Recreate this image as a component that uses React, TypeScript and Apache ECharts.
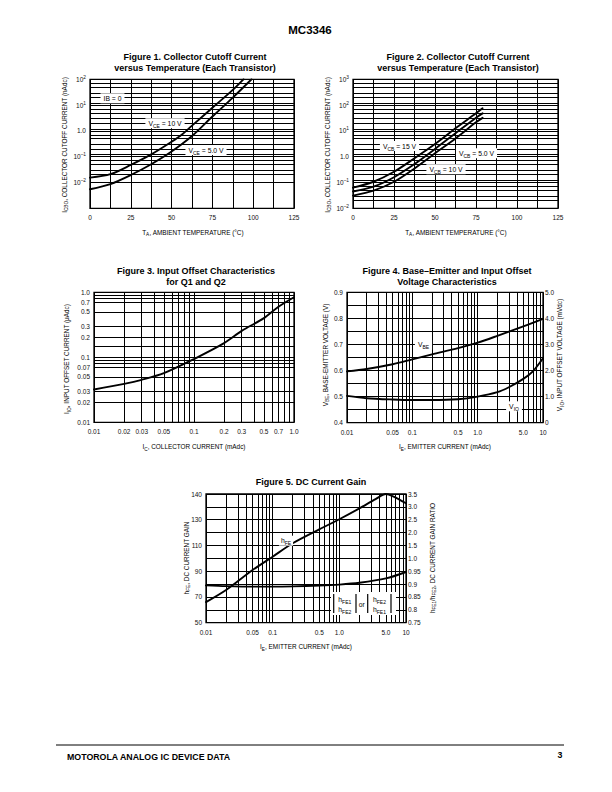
import React, { useEffect, useRef } from 'react';
import * as echarts from 'echarts';

const FONT = '"Liberation Sans", Arial, Helvetica, sans-serif';

// ---------------- Figure 1 ----------------
const fig1TempA = [0, 12.5, 25, 37.5, 50, 56, 62.5, 75, 87.5, 94];
const fig1Vce10V = [0.0155, 0.021, 0.048, 0.123, 0.38, 0.69, 1.6, 7.9, 39, 100];
const fig1TempB = [0, 12.5, 25, 37.5, 50, 62.5, 75, 87.5, 99];
const fig1Vce5V = [0.0055, 0.0087, 0.0195, 0.051, 0.158, 0.63, 3.6, 19.5, 100];
const fig1XTicks = [0, 25, 50, 75, 100, 125];
const fig1XLabels = ['0', '25', '50', '75', '100', '125'];
const fig1YTicks = [0.001, 0.01, 0.1, 1, 10, 100];
const fig1YLabels = ['10^–3', '10^–2', '10^–1', '1.0', '10^1', '10^2'];

// ---------------- Figure 2 ----------------
const fig2Temp = [0, 12.5, 25, 37.5, 50, 62.5, 75, 79];
const fig2Vcb15V = [0.063, 0.107, 0.26, 0.87, 3.1, 12.6, 48, 75];
const fig2Vcb10V = [0.045, 0.069, 0.16, 0.52, 2.0, 8.1, 32.6, 48];
const fig2Vcb5V = [0.031, 0.048, 0.107, 0.35, 1.35, 5.1, 21.5, 32];
const fig2XTicks = [0, 25, 50, 75, 100, 125];
const fig2XLabels = ['0', '25', '50', '75', '100', '125'];
const fig2YTicks = [0.01, 0.1, 1, 10, 100, 1000];
const fig2YLabels = ['10^–2', '10^–1', '1.0', '10^1', '10^2', '10^3'];

// ---------------- Figure 3 ----------------
const fig3Ic = [0.01, 0.02, 0.03, 0.05, 0.1, 0.2, 0.3, 0.5, 0.7, 1.0];
const fig3Iio = [0.032, 0.039, 0.045, 0.057, 0.094, 0.165, 0.255, 0.4, 0.6, 0.84];
const fig3XTicks = [0.01, 0.02, 0.03, 0.05, 0.1, 0.2, 0.3, 0.5, 0.7, 1];
const fig3XLabels = ['0.01', '0.02', '0.03', '0.05', '0.1', '0.2', '0.3', '0.5', '0.7', '1.0'];
const fig3YTicks = [0.01, 0.02, 0.03, 0.05, 0.07, 0.1, 0.2, 0.3, 0.5, 0.7, 1];
const fig3YLabels = ['0.01', '0.02', '0.03', '0.05', '0.07', '0.1', '0.2', '0.3', '0.5', '0.7', '1.0'];

// ---------------- Figure 4 ----------------
const fig4IeVbe = [0.01, 0.02, 0.05, 0.1, 0.2, 0.5, 1, 2, 5, 10];
const fig4Vbe = [0.597, 0.606, 0.624, 0.643, 0.662, 0.686, 0.707, 0.733, 0.769, 0.798];
const fig4IeVio = [0.01, 0.02, 0.05, 0.1, 0.2, 0.5, 1, 2, 3, 5, 7, 10];
const fig4Vio = [1.03, 0.94, 0.89, 0.87, 0.87, 0.9, 1.0, 1.17, 1.36, 1.68, 1.97, 2.47];
const fig4XTicks = [0.01, 0.05, 0.1, 0.5, 1, 5, 10];
const fig4XLabels = ['0.01', '0.05', '0.1', '0.5', '1.0', '5.0', '10'];
const fig4YTicks = [0.4, 0.5, 0.6, 0.7, 0.8, 0.9];
const fig4YLabels = ['0.4', '0.5', '0.6', '0.7', '0.8', '0.9'];
const fig4Y2Ticks = [0, 1, 2, 3, 4, 5];
const fig4Y2Labels = ['0', '1.0', '2.0', '3.0', '4.0', '5.0'];

// ---------------- Figure 5 ----------------
const fig5Ie = [0.01, 0.02, 0.05, 0.1, 0.2, 0.5, 1, 2, 3.5, 5, 6.5, 10];
const fig5Hfe = [66, 75.4, 90.9, 101.3, 111.7, 122.5, 130.2, 134.4, 138, 140, 139, 136.4];
const fig5IeRatio = [0.01, 0.02, 0.05, 0.1, 0.2, 0.5, 1, 2, 5, 10];
const fig5Ratio = [0.895, 0.892, 0.89, 0.89, 0.891, 0.894, 0.898, 0.905, 0.922, 0.947];
const fig5XTicks = [0.01, 0.05, 0.1, 0.5, 1, 5, 10];
const fig5XLabels = ['0.01', '0.05', '0.1', '0.5', '1.0', '5.0', '10'];
const fig5HfeTicks = [50, 70, 90, 110, 130, 140];
const fig5HfeLabels = ['50', '70', '90', '110', '130', '140'];
const fig5RatioTicks = [0.75, 0.8, 0.85, 0.9, 0.95, 1.0, 1.5, 2.0, 2.5, 3.0, 3.5];
const fig5RatioLabels = ['0.75', '0.8', '0.85', '0.9', '0.95', '1.0', '1.5', '2.0', '2.5', '3.0', '3.5'];

// ---------- helpers ----------
const logGrid = (min: number, max: number, mults: number[]) => {
  const out: number[] = [];
  const e0 = Math.floor(Math.log10(min) + 1e-9);
  const e1 = Math.ceil(Math.log10(max) - 1e-9);
  for (let e = e0; e <= e1; e++) {
    for (const m of mults) {
      const v = parseFloat((m * Math.pow(10, e)).toPrecision(8));
      if (v >= min * (1 - 1e-9) && v <= max * (1 + 1e-9)) out.push(v);
    }
  }
  return out;
};
const linGrid = (min: number, max: number, step: number) => {
  const out: number[] = [];
  const n = Math.round((max - min) / step);
  for (let i = 0; i <= n; i++) out.push(Math.round((min + i * step) * 1e6) / 1e6);
  return out;
};
const interp = (xs: number[], ys: number[], v: number) => {
  for (let i = 0; i < xs.length - 1; i++) {
    if (v <= xs[i + 1] || i === xs.length - 2) {
      return ys[i] + ((v - xs[i]) / (xs[i + 1] - xs[i])) * (ys[i + 1] - ys[i]);
    }
  }
  return ys[0];
};
const idxRange = (n: number) => Array.from({ length: n }, (_, i) => i);

const TICK_RICH = {
  tk: { fontSize: 6.5, fontFamily: FONT, color: '#111', lineHeight: 9, verticalAlign: 'middle' },
  sp: { fontSize: 4.8, fontFamily: FONT, color: '#111', lineHeight: 5, verticalAlign: 'top' },
};
const tickText = (s: string) => {
  const k = s.indexOf('^');
  if (k < 0) return `{tk|${s}}`;
  return `{tk|${s.slice(0, k)}}{sp|${s.slice(k + 1)}}`;
};
const findTick = (ticks: number[], v: number) =>
  ticks.findIndex((t) => Math.abs(t - v) <= Math.abs(t) * 1e-6 + 1e-9);

function gridMarkLine(
  xs: number[], ys: number[],
  xTicks: number[], xLabels: string[],
  yTicks: number[], yLabels: string[],
  xDist = 5, yDist = 4,
) {
  const data: any[] = [];
  xs.forEach((v) => {
    const i = findTick(xTicks, v);
    data.push({
      xAxis: v,
      label: i >= 0 ? { show: true, position: 'start', distance: xDist, formatter: () => tickText(xLabels[i]) } : { show: false },
    });
  });
  ys.forEach((v) => {
    const i = findTick(yTicks, v);
    data.push({
      yAxis: v,
      label: i >= 0 ? { show: true, position: 'start', distance: yDist, formatter: () => tickText(yLabels[i]) } : { show: false },
    });
  });
  return {
    silent: true,
    symbol: ['none', 'none'],
    z: 1,
    animation: false,
    emphasis: { disabled: true },
    lineStyle: { color: '#000', width: 1, type: 'solid' },
    label: { fontSize: 6.5, fontFamily: FONT, color: '#111', rich: TICK_RICH },
    data,
  };
}
function rightLabels(yTicks: number[], yLabels: string[], pos: (v: number) => number, dist = 2) {
  return {
    silent: true,
    symbol: ['none', 'none'],
    z: 1,
    animation: false,
    emphasis: { disabled: true },
    lineStyle: { color: 'rgba(0,0,0,0)', width: 0 },
    label: { fontSize: 6.5, fontFamily: FONT, color: '#111', rich: TICK_RICH },
    data: yTicks.map((t, i) => ({
      yAxis: pos(t),
      label: { show: true, position: 'end', distance: dist, formatter: () => tickText(yLabels[i]) },
    })),
  };
}

const hidden = {
  axisLine: { show: false },
  axisTick: { show: false },
  axisLabel: { show: false },
  splitLine: { show: false },
};

const curve = (name: string, xi: number, yi: number, data: number[][], extra: any = {}) => ({
  type: 'line',
  name,
  xAxisIndex: xi,
  yAxisIndex: yi,
  data,
  symbol: 'none',
  showSymbol: false,
  smooth: 0.3,
  silent: true,
  z: 3,
  lineStyle: { color: '#000', width: 1.9, cap: 'round', join: 'round' },
  ...extra,
});

const G_RICH = {
  n: { fontSize: 6.4, fontFamily: FONT, fill: '#000', lineHeight: 10, verticalAlign: 'middle' },
  s: { fontSize: 4.7, fontFamily: FONT, fill: '#000', lineHeight: 6, verticalAlign: 'bottom' },
  N: { fontSize: 6.8, fontFamily: FONT, fill: '#000', lineHeight: 10, verticalAlign: 'middle' },
  S: { fontSize: 5, fontFamily: FONT, fill: '#000', lineHeight: 6, verticalAlign: 'bottom' },
};
// text with subscripts: parts alternate normal / subscript
const subText = (parts: string[], big = false) =>
  parts.map((p, i) => (p === '' ? '' : `{${i % 2 === 0 ? (big ? 'N' : 'n') : (big ? 'S' : 's')}|${p}}`)).join('');

const txt = (x: number, y: number, text: string, o: any = {}) => ({
  type: 'text',
  x,
  y,
  z: 20,
  silent: true,
  rotation: o.rot || 0,
  style: {
    text,
    fontSize: o.size || 6.4,
    fontFamily: FONT,
    fontWeight: o.bold ? 'bold' : 'normal',
    fill: '#000',
    align: o.align || 'center',
    verticalAlign: 'middle',
    textAlign: o.align || 'center',
    textVerticalAlign: 'middle',
    rich: G_RICH,
    backgroundColor: o.bg,
    padding: o.pad,
  },
});
const vline = (x: number, y1: number, y2: number, w = 1.2) => ({
  type: 'line', z: 21, silent: true,
  shape: { x1: x, y1, x2: x, y2 },
  style: { stroke: '#000', lineWidth: w },
});

export default function App() {
  const ref = useRef<HTMLDivElement>(null);
  useEffect(() => {
    if (!ref.current) return;
    const chart = echarts.init(ref.current, null, { renderer: 'svg' });

    const gridBox = (left: number, top: number, width: number, height: number) => ({
      left, top, width, height, show: true, borderColor: '#000', borderWidth: 1.3, backgroundColor: 'rgba(0,0,0,0)',
    });

    const multsTemp = [1, 1.2, 2, 3, 5, 7];
    const multsOffset = [1, 1.5, 2, 3, 5, 7, 8, 9];
    const decade = [1, 2, 3, 4, 5, 6, 7, 8, 9];

    const hfePos = (v: number) => interp(fig5HfeTicks, [0, 2, 4, 6, 8, 10], v);
    const ratioPos = (v: number) => interp(fig5RatioTicks, idxRange(11), v);

    const option: any = {
      animation: false,
      backgroundColor: '#fff',
      grid: [
        gridBox(90, 79.3, 204, 129),
        gridBox(353, 79.3, 205, 129),
        gridBox(94, 292.3, 200, 130),
        gridBox(347, 292.3, 196, 130.4),
        gridBox(206, 494, 200, 128.7),
      ],
      xAxis: [
        { gridIndex: 0, type: 'value', min: 0, max: 125, ...hidden },
        { gridIndex: 1, type: 'value', min: 0, max: 125, ...hidden },
        { gridIndex: 2, type: 'log', logBase: 10, min: 0.01, max: 1, ...hidden },
        { gridIndex: 3, type: 'log', logBase: 10, min: 0.01, max: 10, ...hidden },
        { gridIndex: 4, type: 'log', logBase: 10, min: 0.01, max: 10, ...hidden },
      ],
      yAxis: [
        { gridIndex: 0, type: 'log', logBase: 10, min: 0.001, max: 100, ...hidden },
        { gridIndex: 1, type: 'log', logBase: 10, min: 0.01, max: 1000, ...hidden },
        { gridIndex: 2, type: 'log', logBase: 10, min: 0.01, max: 1, ...hidden },
        { gridIndex: 3, type: 'value', min: 0.4, max: 0.9, ...hidden },
        { gridIndex: 3, type: 'value', min: 0, max: 5, position: 'right', ...hidden },
        { gridIndex: 4, type: 'value', min: 0, max: 10, ...hidden },
        { gridIndex: 4, type: 'value', min: 0, max: 10, position: 'right', ...hidden },
      ],
      series: [
        curve('VCE = 10 V', 0, 0, fig1TempA.map((t, i) => [t, fig1Vce10V[i]]), {
          markLine: gridMarkLine(linGrid(0, 125, 12.5), logGrid(0.001, 100, multsTemp), fig1XTicks, fig1XLabels, fig1YTicks, fig1YLabels),
        }),
        curve('VCE = 5.0 V', 0, 0, fig1TempB.map((t, i) => [t, fig1Vce5V[i]])),

        curve('VCB = 15 V', 1, 1, fig2Temp.map((t, i) => [t, fig2Vcb15V[i]]), {
          markLine: gridMarkLine(linGrid(0, 125, 12.5), logGrid(0.01, 1000, multsTemp), fig2XTicks, fig2XLabels, fig2YTicks, fig2YLabels),
        }),
        curve('VCB = 10 V', 1, 1, fig2Temp.map((t, i) => [t, fig2Vcb10V[i]])),
        curve('VCB = 5.0 V', 1, 1, fig2Temp.map((t, i) => [t, fig2Vcb5V[i]])),

        curve('IIO', 2, 2, fig3Ic.map((c, i) => [c, fig3Iio[i]]), {
          markLine: gridMarkLine(logGrid(0.01, 1, decade), logGrid(0.01, 1, multsOffset), fig3XTicks, fig3XLabels, fig3YTicks, fig3YLabels),
        }),

        curve('VBE', 3, 3, fig4IeVbe.map((c, i) => [c, fig4Vbe[i]]), {
          markLine: gridMarkLine(logGrid(0.01, 10, decade), linGrid(0.4, 0.9, 0.05), fig4XTicks, fig4XLabels, fig4YTicks, fig4YLabels),
        }),
        curve('VIO', 3, 4, fig4IeVio.map((c, i) => [c, fig4Vio[i]]), {
          markLine: rightLabels(fig4Y2Ticks, fig4Y2Labels, (v) => v, 2),
        }),

        curve('hFE', 4, 5, fig5Ie.map((c, i) => [c, hfePos(fig5Hfe[i])]), {
          markLine: gridMarkLine(
            logGrid(0.01, 10, decade), idxRange(11),
            fig5XTicks, fig5XLabels,
            fig5HfeTicks.map(hfePos), fig5HfeLabels,
          ),
        }),
        curve('hFE ratio', 4, 6, fig5IeRatio.map((c, i) => [c, ratioPos(fig5Ratio[i])]), {
          markLine: rightLabels(fig5RatioTicks, fig5RatioLabels, ratioPos, 2),
        }),
      ],
      graphic: {
        elements: [
          // page header
          txt(310, 30, 'MC3346', { bold: true, size: 11.5 }),
          // figure titles
          txt(195, 57, 'Figure 1. Collector Cutoff Current', { bold: true, size: 9 }),
          txt(195, 67.7, 'versus Temperature (Each Transistor)', { bold: true, size: 9 }),
          txt(458, 57, 'Figure 2. Collector Cutoff Current', { bold: true, size: 9 }),
          txt(458, 67.7, 'versus Temperature (Each Transistor)', { bold: true, size: 9 }),
          txt(196, 271, 'Figure 3. Input Offset Characteristics', { bold: true, size: 9 }),
          txt(196, 281.7, 'for Q1 and Q2', { bold: true, size: 9 }),
          txt(447, 271, 'Figure 4. Base–Emitter and Input Offset', { bold: true, size: 9 }),
          txt(447, 281.7, 'Voltage Characteristics', { bold: true, size: 9 }),
          txt(311, 481.7, 'Figure 5. DC Current Gain', { bold: true, size: 9 }),

          // axis names
          txt(193, 232, subText(['T', 'A', ', AMBIENT TEMPERATURE (°C)'])),
          txt(64, 145, subText(['I', 'CBO', ', COLLECTOR CUTOFF CURRENT (nAdc)']), { rot: Math.PI / 2 }),
          txt(456, 232, subText(['T', 'A', ', AMBIENT TEMPERATURE (°C)'])),
          txt(327, 145, subText(['I', 'CBO', ', COLLECTOR CUTOFF CURRENT (nAdc)']), { rot: Math.PI / 2 }),
          txt(194, 446.5, subText(['I', 'C', ', COLLECTOR CURRENT (mAdc)'])),
          txt(66.5, 359, subText(['I', 'IO', ', INPUT OFFSET CURRENT (μAdc)']), { rot: Math.PI / 2 }),
          txt(445, 446.5, subText(['I', 'E', ', EMITTER CURRENT (mAdc)'])),
          txt(325, 355, subText(['V', 'BE', ', BASE-EMITTER VOLTAGE (V)']), { rot: Math.PI / 2 }),
          txt(559.5, 355, subText(['V', 'IO', ', INPUT OFFSET VOLTAGE (mVdc)']), { rot: Math.PI / 2 }),
          txt(306, 646.5, subText(['I', 'E', ', EMITTER CURRENT (mAdc)'])),
          txt(186, 558, subText(['h', 'FE', ', DC CURRENT GAIN']), { rot: Math.PI / 2 }),
          txt(432, 558, subText(['h', 'FE1', '/h', 'FE2', ', DC CURRENT GAIN RATIO']), { rot: Math.PI / 2 }),

          // curve annotations
          txt(112.5, 98.3, subText(['IB = 0'], true), { bg: '#fff', pad: [0, 3] }),
          txt(165, 123.3, subText(['V', 'CE', ' = 10 V'], true), { bg: '#fff', pad: [0, 3] }),
          txt(206, 150, subText(['V', 'CE', ' = 5.0 V'], true), { bg: '#fff', pad: [0, 3] }),
          txt(399.5, 146, subText(['V', 'CB', ' = 15 V'], true), { bg: '#fff', pad: [0, 3] }),
          txt(476.5, 153.3, subText(['V', 'CB', ' = 5.0 V'], true), { bg: '#fff', pad: [0, 3] }),
          txt(446, 169.3, subText(['V', 'CB', ' = 10 V'], true), { bg: '#fff', pad: [0, 3] }),
          txt(423.5, 344.7, subText(['V', 'BE'], true), { bg: '#fff', pad: [0, 3] }),
          txt(514, 406.3, subText(['V', 'IO'], true), { bg: '#fff', pad: [0, 3] }),
          txt(286, 540.7, subText(['h', 'FE'], true), { bg: '#fff', pad: [0, 2] }),

          // ratio legend box
          { type: 'rect', z: 19, silent: true, shape: { x: 331, y: 592, width: 65, height: 23 }, style: { fill: '#fff' } },
          vline(333.7, 594, 613),
          vline(356, 594, 613),
          vline(367.7, 594, 613),
          vline(391, 594, 613),
          txt(344.8, 599, subText(['h', 'FE1'], true)),
          txt(344.8, 609, subText(['h', 'FE2'], true)),
          txt(361.8, 604, subText(['or'], true)),
          txt(379.5, 599, subText(['h', 'FE2'], true)),
          txt(379.5, 609, subText(['h', 'FE1'], true)),

          // footer
          { type: 'line', z: 20, silent: true, shape: { x1: 56, y1: 745, x2: 564, y2: 745 }, style: { stroke: '#000', lineWidth: 1 } },
          txt(67, 757, 'MOTOROLA ANALOG IC DEVICE DATA', { bold: true, size: 8.8, align: 'left' }),
          txt(560, 755, '3', { bold: true, size: 8.8 }),
        ],
      },
    };

    chart.setOption(option);
    return () => chart.dispose();
  }, []);

  return (
    <div
      ref={ref}
      style={{ position: 'absolute', left: 0, top: 0, width: 612, height: 792, background: '#fff' }}
    />
  );
}
